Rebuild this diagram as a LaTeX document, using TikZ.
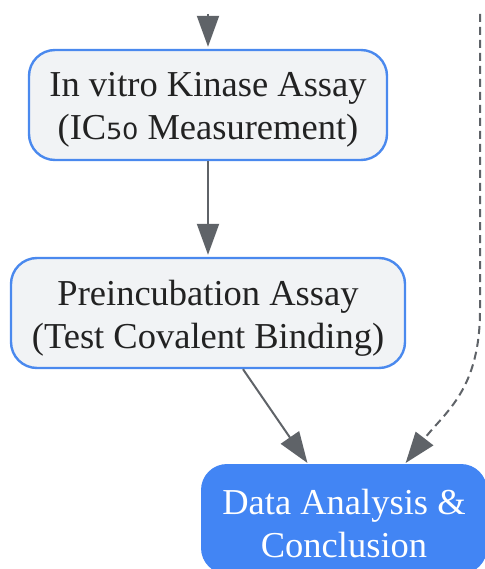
\documentclass[tikz,border=0pt]{standalone}
\usepackage{fontspec}
\setmainfont{Liberation Serif}
\newfontfamily\subfont{DejaVu Sans}
\usetikzlibrary{arrows.meta}
\definecolor{boxfill}{HTML}{F1F3F5}
\definecolor{boxline}{HTML}{4A89EE}
\definecolor{darkfill}{HTML}{4285F4}
\definecolor{arrowgray}{HTML}{5F6368}
\definecolor{txt}{HTML}{222222}
\tikzset{
  stepbox/.style={draw=boxline, line width=2.4pt, fill=boxfill, rounded corners=26pt,
    minimum height=110pt, inner sep=0pt},
  finalbox/.style={fill=darkfill, rounded corners=26pt, minimum height=110pt, inner sep=0pt},
  boxtext/.style={align=center, inner sep=0pt, text=txt, font=\fontsize{36.5}{43}\selectfont},
  finaltext/.style={boxtext, text=white},
  conn/.style={draw=arrowgray, line width=2pt, -{Triangle[length=31pt,width=22pt]}},
}
\begin{document}
\begin{tikzpicture}[x=1pt,y=-1pt]
\useasboundingbox (0,0) rectangle (484,569);
\node[stepbox, minimum width=358pt] (n1) at (208,105) {};
\node[boxtext] (t1) at ([yshift=-5pt]n1.center) {In vitro Kinase Assay\\(IC{\subfont\fontsize{40}{43}\selectfont\raisebox{0.5pt}{₅₀}} Measurement)};
\node[stepbox, minimum width=394pt] (n2) at (208,313) {};
\node[boxtext] (t2) at ([yshift=-5pt]n2.center) {Preincubation Assay\\(Test Covalent Binding)};
\node[finalbox, minimum width=286pt] (n3) at (344,519) {};
\node[finaltext] (t3) at ([yshift=-5pt]n3.center) {Data Analysis \&\\Conclusion};
\coordinate (topin) at (208,14);
\coordinate (dashin) at (480,14);
\coordinate (dashbend) at (480,310);
\draw[conn, shorten >=2pt] (topin) -- (n1.north);
\draw[conn, shorten >=2pt] (n1.south) -- (n2.north);
\draw[conn, shorten >=1pt] ([xshift=35pt]n2.south) -- ([xshift=-36pt]n3.north);
\draw[conn, dash pattern=on 8pt off 5pt, shorten >=1pt] (dashin) -- (dashbend) .. controls (480,390) and (445,412) .. ([xshift=61pt]n3.north);
\end{tikzpicture}
\end{document}
